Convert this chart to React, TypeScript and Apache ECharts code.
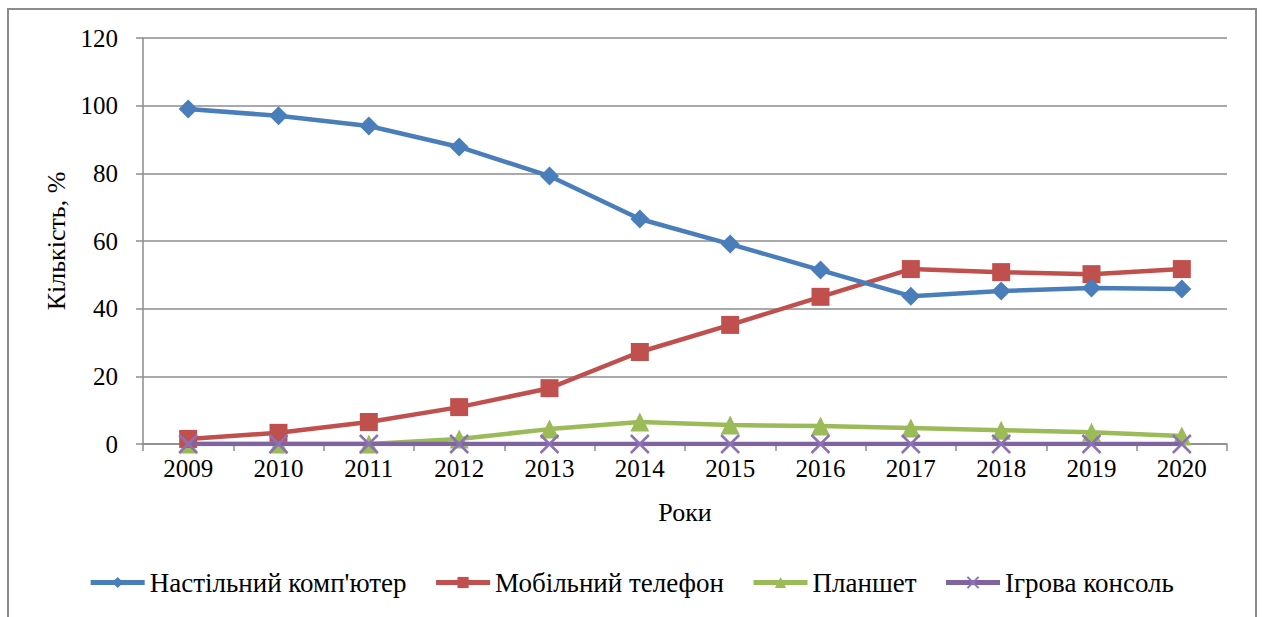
import React, { useEffect, useRef } from "react";
import * as echarts from "echarts";

const years = ["2009", "2010", "2011", "2012", "2013", "2014", "2015", "2016", "2017", "2018", "2019", "2020"];
const desktop = [99, 97, 94, 87.8, 79.2, 66.5, 59.1, 51.4, 43.7, 45.2, 46.1, 45.8];
const mobile = [1.5, 3.3, 6.5, 10.9, 16.5, 27.2, 35.2, 43.5, 51.7, 50.8, 50.2, 51.7];
const tablet = [0, 0, 0, 1.5, 4.4, 6.5, 5.6, 5.3, 4.7, 4.1, 3.5, 2.4];
const console_ = [0, 0, 0, 0, 0, 0, 0, 0, 0, 0, 0, 0];
const yTicks = [0, 20, 40, 60, 80, 100, 120];

const FONT = "Liberation Serif";

export default function App() {
  const ref = useRef<HTMLDivElement>(null);
  useEffect(() => {
    document.body.style.margin = "0";
    const chart = echarts.init(ref.current!, null, { renderer: "svg" });
    const xPath = "path://M0,0L10,10M10,0L0,10";
    chart.setOption({
      animation: false,
      backgroundColor: "#ffffff",
      textStyle: { fontFamily: FONT },
      graphic: [
        {
          type: "rect",
          shape: { x: 8, y: 9, width: 1248, height: 640 },
          style: { fill: "none", stroke: "#8c8c8c", lineWidth: 2 },
          silent: true,
        },
      ],
      grid: { left: 143, right: 35, top: 38, bottom: 173 },
      legend: {
        bottom: 16,
        left: "center",
        itemWidth: 54,
        itemHeight: 14,
        itemGap: 27,
        lineStyle: { width: 5 },
        textStyle: { fontFamily: FONT, fontSize: 27, color: "#000" },
        data: ["Настільний комп'ютер", "Мобільний телефон", "Планшет", "Ігрова консоль"],
      },
      xAxis: {
        type: "category",
        data: years,
        boundaryGap: true,
        name: "Роки",
        nameLocation: "middle",
        nameGap: 55,
        nameTextStyle: { fontFamily: FONT, fontSize: 26, color: "#000" },
        axisLine: { lineStyle: { color: "#8c8c8c", width: 1.5 } },
        axisTick: { show: true, length: 7, lineStyle: { color: "#8c8c8c", width: 1.5 } },
        axisLabel: { fontFamily: FONT, fontSize: 25, color: "#000", margin: 12 },
      },
      yAxis: {
        type: "value",
        min: yTicks[0],
        max: yTicks[yTicks.length - 1],
        interval: 20,
        name: "Кількість, %",
        nameLocation: "middle",
        nameGap: 71,
        nameRotate: 90,
        nameTextStyle: { fontFamily: FONT, fontSize: 26, color: "#000" },
        axisLine: { show: true, lineStyle: { color: "#8c8c8c", width: 1.5 } },
        axisTick: { show: true, length: 7, lineStyle: { color: "#8c8c8c", width: 1.5 } },
        axisLabel: { fontFamily: FONT, fontSize: 25, color: "#000", margin: 25 },
        splitLine: { show: true, lineStyle: { color: "#8c8c8c", width: 1.5 } },
      },
      series: [
        {
          name: "Настільний комп'ютер",
          type: "line",
          data: desktop,
          symbol: "diamond",
          symbolSize: 19,
          lineStyle: { color: "#4a7ebb", width: 4.5 },
          itemStyle: { color: "#4a7ebb" },
          z: 5,
        },
        {
          name: "Мобільний телефон",
          type: "line",
          data: mobile,
          symbol: "rect",
          symbolSize: 18,
          lineStyle: { color: "#c0504d", width: 4.5 },
          itemStyle: { color: "#c0504d" },
          z: 4,
        },
        {
          name: "Планшет",
          type: "line",
          data: tablet,
          symbol: "triangle",
          symbolSize: 19,
          lineStyle: { color: "#9bbb59", width: 4.5 },
          itemStyle: { color: "#9bbb59" },
          z: 3,
        },
        {
          name: "Ігрова консоль",
          type: "line",
          data: console_,
          symbol: xPath,
          symbolSize: 18,
          lineStyle: { color: "#8064a2", width: 4.5 },
          itemStyle: { color: "#8064a2", borderColor: "#8c72b5", borderWidth: 2.5 },
          z: 6,
        },
      ],
    });
    return () => chart.dispose();
  }, []);
  return <div ref={ref} style={{ width: 1262, height: 617 }} />;
}
